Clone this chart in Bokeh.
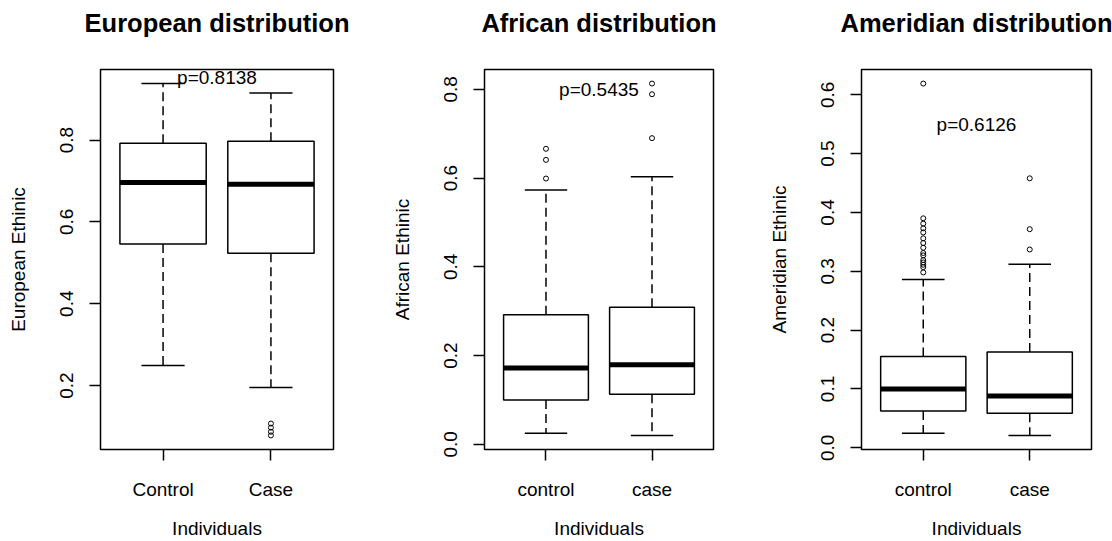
from bokeh.plotting import figure
from bokeh.layouts import row
from bokeh.models import FixedTicker, PrintfTickFormatter, Range1d, Title
from bokeh.core.properties import value
from bokeh.embed import file_html
from bokeh.resources import INLINE

FONT = "Liberation Sans"

# ---- data (lower whisker, Q1, median, Q3, upper whisker) ----
eur_groups = ["Control", "Case"]
eur_control = [0.249, 0.546, 0.696, 0.792, 0.938]
eur_case = [0.195, 0.523, 0.692, 0.797, 0.915]
eur_control_out = []
eur_case_out = [0.107, 0.097, 0.087, 0.078]
eur_p = "p=0.8138"
eur_ticks = [0.2, 0.4, 0.6, 0.8]

afr_groups = ["control", "case"]
afr_control = [0.025, 0.100, 0.172, 0.292, 0.573]
afr_case = [0.020, 0.113, 0.1795, 0.309, 0.603]
afr_control_out = [0.599, 0.641, 0.666]
afr_case_out = [0.690, 0.789, 0.813]
afr_p = "p=0.5435"
afr_ticks = [0.0, 0.2, 0.4, 0.6, 0.8]

ame_groups = ["control", "case"]
ame_control = [0.0246, 0.0626, 0.100, 0.155, 0.286]
ame_case = [0.021, 0.0587, 0.088, 0.163, 0.312]
ame_control_out = [0.298, 0.307, 0.311, 0.315, 0.319, 0.327, 0.331, 0.340,
                   0.348, 0.356, 0.366, 0.373, 0.381, 0.390, 0.619]
ame_case_out = [0.337, 0.3715, 0.458]
ame_p = "p=0.6126"
ame_ticks = [0.0, 0.1, 0.2, 0.3, 0.4, 0.5, 0.6]

FRAME_H = 380
TOP = 69
BOTTOM = 92


def panel(title, ylabel, groups, st_c, st_k, out_c, out_k, yticks, ptext, p_y,
          width, mbl, mbr):
    allv = st_c + st_k + out_c + out_k
    lo, hi = min(allv), max(allv)
    pad = 0.04 * (hi - lo)
    y0, y1 = lo - pad, hi + pad
    p = figure(width=width, height=TOP + FRAME_H + BOTTOM, output_backend="svg",
               toolbar_location=None,
               x_range=Range1d(0.42, 2.58), y_range=Range1d(y0, y1),
               min_border_left=mbl, min_border_right=mbr, min_border_top=TOP,
               min_border_bottom=BOTTOM)
    p.grid.visible = False
    p.outline_line_color = "black"
    p.outline_line_width = 1.5
    p.background_fill_color = "white"
    p.border_fill_color = "white"

    # blank (white) spacer between frame and title, then the title further out
    p.add_layout(Title(text=" ", text_font=FONT, text_font_size="25.5px",
                       text_color="white", standoff=3), "above")
    p.add_layout(Title(text=title, text_font=FONT, text_font_size="25.5px",
                       text_font_style="bold", align="center", standoff=0,
                       text_color="black"), "above")

    xs = [1, 2]
    stats = [st_c, st_k]
    bw = 0.8
    sw = 0.4
    for x, s in zip(xs, stats):
        wl, q1, md, q3, wh = s
        p.segment(x0=[x, x], y0=[q3, q1], x1=[x, x], y1=[wh, wl], line_color="black",
                  line_width=1.5, line_dash="9 5")
        p.segment(x0=[x - sw / 2, x - sw / 2], y0=[wh, wl], x1=[x + sw / 2, x + sw / 2],
                  y1=[wh, wl], line_color="black", line_width=1.5)
        p.quad(left=[x - bw / 2], right=[x + bw / 2], bottom=[q1], top=[q3],
               fill_color="white", line_color="black", line_width=1.5)
        p.segment(x0=[x - bw / 2], y0=[md], x1=[x + bw / 2], y1=[md], line_color="black",
                  line_width=5)
    for x, o in zip(xs, [out_c, out_k]):
        if o:
            p.scatter(x=[x] * len(o), y=o, marker="circle", size=5, fill_color=None,
                      line_color="black", line_width=1)

    p.text(x=[1.5], y=[p_y], text=[ptext], text_align="center", text_baseline="middle",
           text_font=value(FONT), text_font_size="19px", text_color="black")

    for ax in [p.xaxis[0], p.yaxis[0]]:
        ax.axis_line_color = None
        ax.major_tick_line_color = "black"
        ax.major_tick_line_width = 1.5
        ax.major_tick_out = 11
        ax.major_tick_in = 0
        ax.minor_tick_line_color = None
        ax.major_label_text_font = FONT
        ax.major_label_text_font_size = "19px"
        ax.major_label_text_color = "black"
        ax.axis_label_text_font = FONT
        ax.axis_label_text_font_size = "19px"
        ax.axis_label_text_font_style = "normal"
        ax.axis_label_text_color = "black"

    p.xaxis.ticker = FixedTicker(ticks=xs)
    p.xaxis.major_label_overrides = {1: groups[0], 2: groups[1]}
    p.xaxis.axis_label = "Individuals"
    p.xaxis.major_label_standoff = 18
    p.xaxis.axis_label_standoff = 15

    p.yaxis.ticker = FixedTicker(ticks=yticks)
    p.yaxis.formatter = PrintfTickFormatter(format="%.1f")
    p.yaxis.major_label_orientation = "vertical"
    p.yaxis.axis_label = ylabel
    p.yaxis.major_label_standoff = 16
    p.yaxis.axis_label_standoff = 29
    return p


p1 = panel("European distribution", "European Ethinic", eur_groups, eur_control, eur_case,
           eur_control_out, eur_case_out, eur_ticks, eur_p, 0.953, 388, 100, 55)
p2 = panel("African distribution", "African Ethinic", afr_groups, afr_control, afr_case,
           afr_control_out, afr_case_out, afr_ticks, afr_p, 0.80, 377, 92, 52)
p3 = panel("Ameridian distribution", "Ameridian Ethinic", ame_groups, ame_control, ame_case,
           ame_control_out, ame_case_out, ame_ticks, ame_p, 0.55, 347, 92, 21)

layout = row(p1, p2, p3)
open("out.html", "w").write(file_html(layout, INLINE))
